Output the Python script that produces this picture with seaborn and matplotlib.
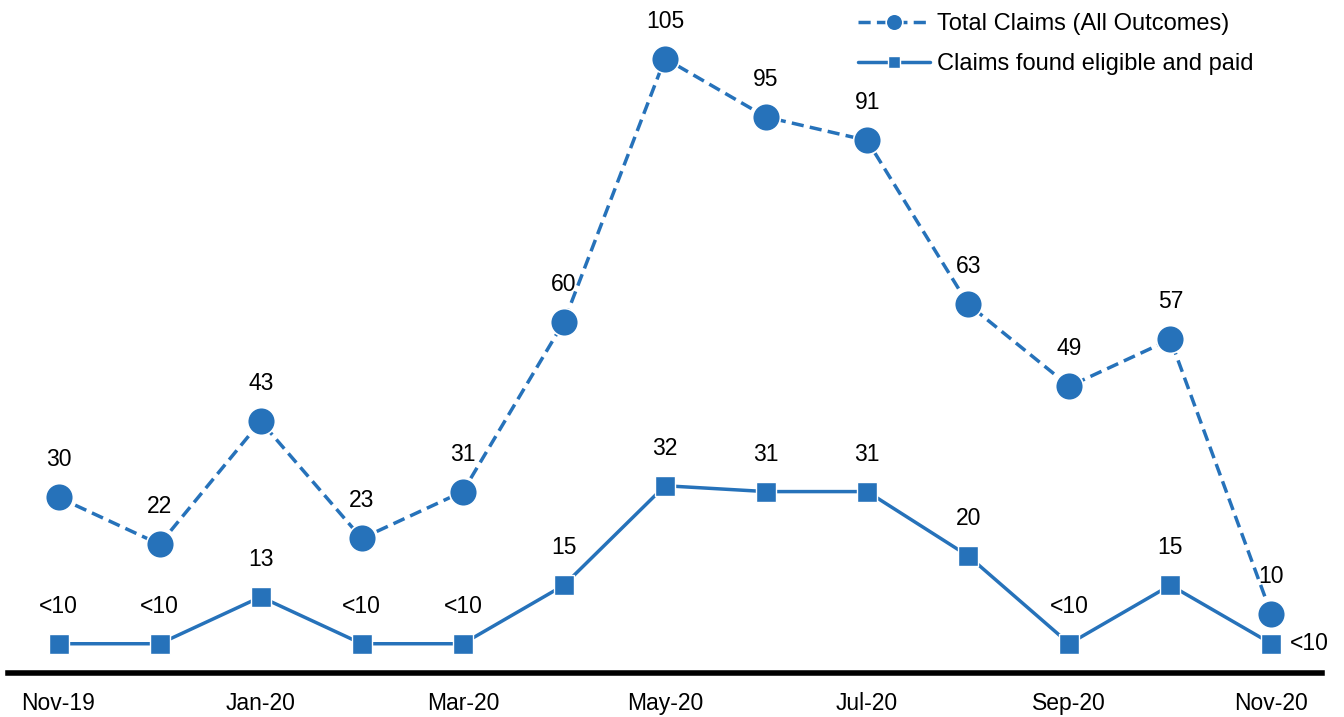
import seaborn as sns
import matplotlib
matplotlib.use("Agg")
from matplotlib import pyplot as plt
import pandas as pd

months = ["Nov-19", "Dec-19", "Jan-20", "Feb-20", "Mar-20", "Apr-20", "May-20",
          "Jun-20", "Jul-20", "Aug-20", "Sep-20", "Oct-20", "Nov-20"]
total_claims = [30, 22, 43, 23, 31, 60, 105, 95, 91, 63, 49, 57, 10]
total_labels = ["30", "22", "43", "23", "31", "60", "105", "95", "91", "63", "49", "57", "10"]
# "<10" values are suppressed in the source, plotted at about 5
paid_claims = [5, 5, 13, 5, 5, 15, 32, 31, 31, 20, 5, 15, 5]
paid_labels = ["<10", "<10", "13", "<10", "<10", "15", "32", "31", "31", "20", "<10", "15", "<10"]

df = pd.DataFrame({"idx": range(len(months)), "month": months,
                   "total": total_claims, "paid": paid_claims})

sns.set_theme(style="white")
plt.rcParams['font.family'] = ['Liberation Sans', 'DejaVu Sans']

blue = "#2672BA"
fs = 16.5

fig = plt.figure(figsize=(13.44, 7.17), dpi=100)
ax = fig.add_axes([8/1344, 44/717, 1314/1344, 673/717])

sns.lineplot(data=df, x="idx", y="total", ax=ax, color=blue, linewidth=2.5,
             linestyle=(0, (3.5, 1.8)), marker="o", markersize=20,
             markeredgecolor="white", markeredgewidth=1.2,
             label="Total Claims (All Outcomes)")
sns.lineplot(data=df, x="idx", y="paid", ax=ax, color=blue, linewidth=2.5,
             marker="s", markersize=14.5, markeredgecolor="white",
             markeredgewidth=1.0, label="Claims found eligible and paid")

for i, (v, lab) in enumerate(zip(total_claims, total_labels)):
    ax.annotate(lab, (i, v), xytext=(0, 27), textcoords="offset points",
                ha="center", va="center", fontsize=fs, color="black")
for i, (v, lab) in enumerate(zip(paid_claims, paid_labels)):
    if i == len(paid_claims) - 1:
        ax.annotate(lab, (i, v), xytext=(13, 0), textcoords="offset points",
                    ha="left", va="center", fontsize=fs, color="black")
    else:
        ax.annotate(lab, (i, v), xytext=(0, 27), textcoords="offset points",
                    ha="center", va="center", fontsize=fs, color="black")

ax.set_xlim(-0.5, 12.5)
ax.set_ylim(0, 115)
ax.set_xticks(range(0, len(months), 2))
ax.set_xticklabels(months[::2], fontsize=fs, color="black")
ax.tick_params(axis="x", length=0, pad=14)
ax.set_yticks([])
ax.set_xlabel("")
ax.set_ylabel("")
sns.despine(ax=ax, left=True)
ax.spines["bottom"].set_linewidth(4)
ax.spines["bottom"].set_color("black")

leg = ax.legend(loc="upper left", bbox_to_anchor=(858/1344, 704/717),
                bbox_transform=fig.transFigure, frameon=False,
                fontsize=17, handlelength=3.05, handletextpad=0.3,
                borderpad=0, borderaxespad=0,
                markerscale=0.6, labelspacing=0.76)
for t in leg.get_texts():
    t.set_color("black")

fig.savefig("out.png", dpi=100)
